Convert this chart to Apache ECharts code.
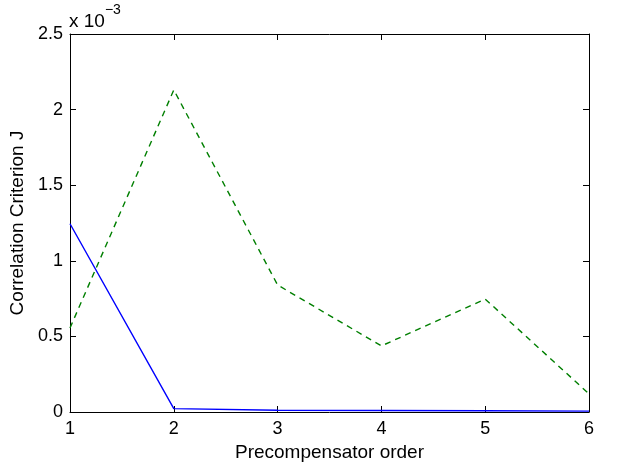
<!DOCTYPE html>
<html>
<head>
<meta charset="utf-8">
<script src="https://cdn.jsdelivr.net/npm/echarts@6/dist/echarts.min.js"></script>
<style>
  html, body { margin: 0; padding: 0; background: #fff; }
  #chart { width: 617px; height: 465px; }
</style>
</head>
<body>
<div id="chart"></div>
<script>
// values in units of 1e-3
const orders = [1, 2, 3, 4, 5, 6];
const solidSeries = [1.245, 0.022, 0.012, 0.010, 0.008, 0.006];
const dashedSeries = [0.556, 2.13, 0.84, 0.437, 0.747, 0.12];
const yTicks = [0, 0.5, 1, 1.5, 2, 2.5];

const font = 'Liberation Sans, Arial, sans-serif';
const chart = echarts.init(document.getElementById('chart'));

const pair = arr => orders.map((o, i) => [o, arr[i]]);

chart.setOption({
  animation: false,
  grid: {
    left: 70, right: 28, top: 34, bottom: 53, show: false,
    containLabel: false, outerBoundsMode: 'none'
  },
  xAxis: [
    {
      type: 'value', min: 1, max: 6, interval: 1,
      position: 'bottom',
      name: 'Precompensator order', nameLocation: 'middle', nameGap: 29,
      nameTextStyle: { fontFamily: font, fontSize: 19, color: '#000' },
      axisLine: { onZero: false, lineStyle: { color: '#000', width: 1 } },
      axisTick: { inside: true, length: 6, lineStyle: { color: '#000' } },
      axisLabel: { fontFamily: font, fontSize: 18, color: '#000', margin: 8 },
      splitLine: { show: false }
    },
    {
      type: 'value', min: 1, max: 6, interval: 1,
      position: 'top',
      axisLine: { onZero: false, lineStyle: { color: '#000', width: 1 } },
      axisTick: { inside: true, length: 6, lineStyle: { color: '#000' } },
      axisLabel: { show: false },
      splitLine: { show: false }
    }
  ],
  yAxis: [
    {
      type: 'value', min: 0, max: 2.5, interval: 0.5,
      position: 'left',
      name: 'Correlation Criterion J', nameLocation: 'middle', nameGap: 36,
      nameTextStyle: { fontFamily: font, fontSize: 19, color: '#000' },
      axisLine: { onZero: false, lineStyle: { color: '#000', width: 1 } },
      axisTick: { inside: true, length: 6, lineStyle: { color: '#000' } },
      axisLabel: {
        fontFamily: font, fontSize: 18, color: '#000', margin: 7,
        formatter: v => yTicks.includes(v) ? String(v) : ''
      },
      splitLine: { show: false }
    },
    {
      type: 'value', min: 0, max: 2.5, interval: 0.5,
      position: 'right',
      axisLine: { onZero: false, lineStyle: { color: '#000', width: 1 } },
      axisTick: { inside: true, length: 6, lineStyle: { color: '#000' } },
      axisLabel: { show: false },
      splitLine: { show: false }
    }
  ],
  graphic: [{
    type: 'text',
    left: 69, top: 3,
    style: {
      text: '{a|x 10}{b|−3}',
      rich: {
        a: { fontFamily: font, fontSize: 19, fill: '#000', padding: [9, 0, 0, 0] },
        b: { fontFamily: font, fontSize: 14, fill: '#000', verticalAlign: 'top' }
      }
    }
  }],
  series: [
    {
      type: 'line', data: pair(solidSeries), symbol: 'none',
      lineStyle: { color: '#0000ff', width: 1.4 }, z: 3
    },
    {
      type: 'line', data: pair(dashedSeries), symbol: 'none',
      lineStyle: { color: '#007f00', width: 1.4, type: [6, 5] }, z: 2
    }
  ]
});
</script>
</body>
</html>
